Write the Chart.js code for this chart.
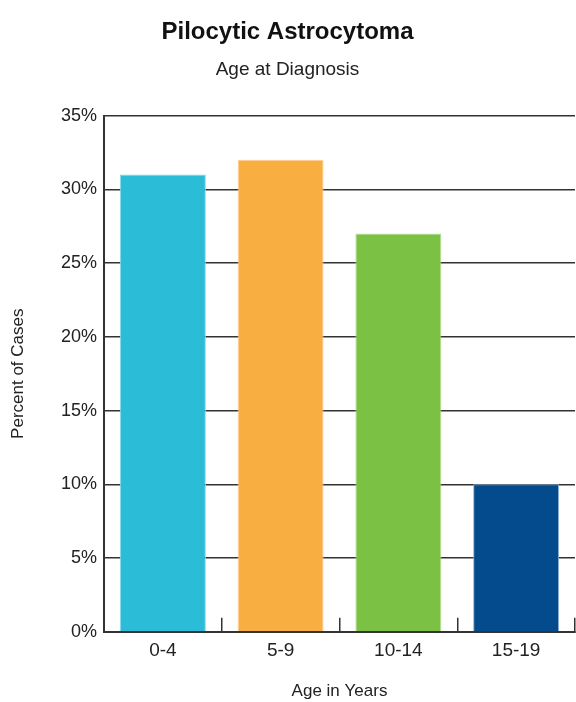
<!DOCTYPE html>
<html>
<head>
<meta charset="utf-8">
<script src="https://cdn.jsdelivr.net/npm/chart.js@4.4.0/dist/chart.umd.min.js"></script>
<style>
  html, body { margin: 0; padding: 0; background: #fff; overflow: hidden; }
  #wrap { position: relative; width: 610px; height: 702px; }
</style>
</head>
<body>
<div id="wrap"><canvas id="c"></canvas></div>
<script>
const categories = ['0-4', '5-9', '10-14', '15-19'];
const percentOfCases = [31, 32, 27, 10];
const barColors = ['#2BBCD8', '#F9AE42', '#7BC143', '#034B8D'];
const barEdgeColors = ['#8AD9EA', '#FCD08F', '#B4DD92', '#8FB0D3'];
const chartTitle = 'Pilocytic Astrocytoma';
const chartSubtitle = 'Age at Diagnosis';
const xTitle = 'Age in Years';
const yTitle = 'Percent of Cases';

const FONT = "'Liberation Sans', Arial, sans-serif";
const AXIS = '#333333';

new Chart(document.getElementById('c'), {
  type: 'bar',
  data: {
    labels: categories,
    datasets: [{
      data: percentOfCases,
      backgroundColor: barColors,
      borderColor: barEdgeColors,
      borderWidth: 1,
      categoryPercentage: 1.0,
      barPercentage: 0.73
    }]
  },
  options: {
    responsive: true,
    maintainAspectRatio: false,
    animation: false,
    layout: { padding: { left: 0, right: 35, top: 0, bottom: 0 } },
    plugins: {
      legend: { display: false },
      tooltip: { enabled: false },
      title: {
        display: true,
        text: chartTitle,
        color: '#111',
        font: { family: FONT, size: 24, weight: 'bold' },
        padding: { top: 18, bottom: 4 }
      },
      subtitle: {
        display: true,
        text: chartSubtitle,
        color: '#222',
        font: { family: FONT, size: 19 },
        padding: { top: 8, bottom: 34 }
      }
    },
    scales: {
      x: {
        offset: true,
        grid: {
          display: true,
          offset: true,
          drawOnChartArea: false,
          drawTicks: true,
          tickLength: -14,
          color: AXIS,
          lineWidth: 1.5
        },
        border: { display: true, color: AXIS, width: 2 },
        ticks: {
          color: '#222',
          font: { family: FONT, size: 19 },
          padding: 22
        },
        title: {
          display: true,
          text: xTitle,
          color: '#222',
          font: { family: FONT, size: 17 },
          padding: { top: -3, bottom: 0 }
        }
      },
      y: {
        min: 0,
        max: 35,
        afterFit: (scale) => { scale.width = 104; },
        grid: {
          display: true,
          drawTicks: false,
          color: AXIS,
          lineWidth: 1.5
        },
        border: { display: true, color: AXIS, width: 2 },
        ticks: {
          stepSize: 5,
          color: '#222',
          font: { family: FONT, size: 18 },
          padding: 7,
          callback: (v) => v + '%'
        },
        title: {
          display: true,
          text: yTitle,
          color: '#222',
          font: { family: FONT, size: 17 },
          padding: { top: 8, bottom: 0 }
        }
      }
    }
  }
});
</script>
</body>
</html>
